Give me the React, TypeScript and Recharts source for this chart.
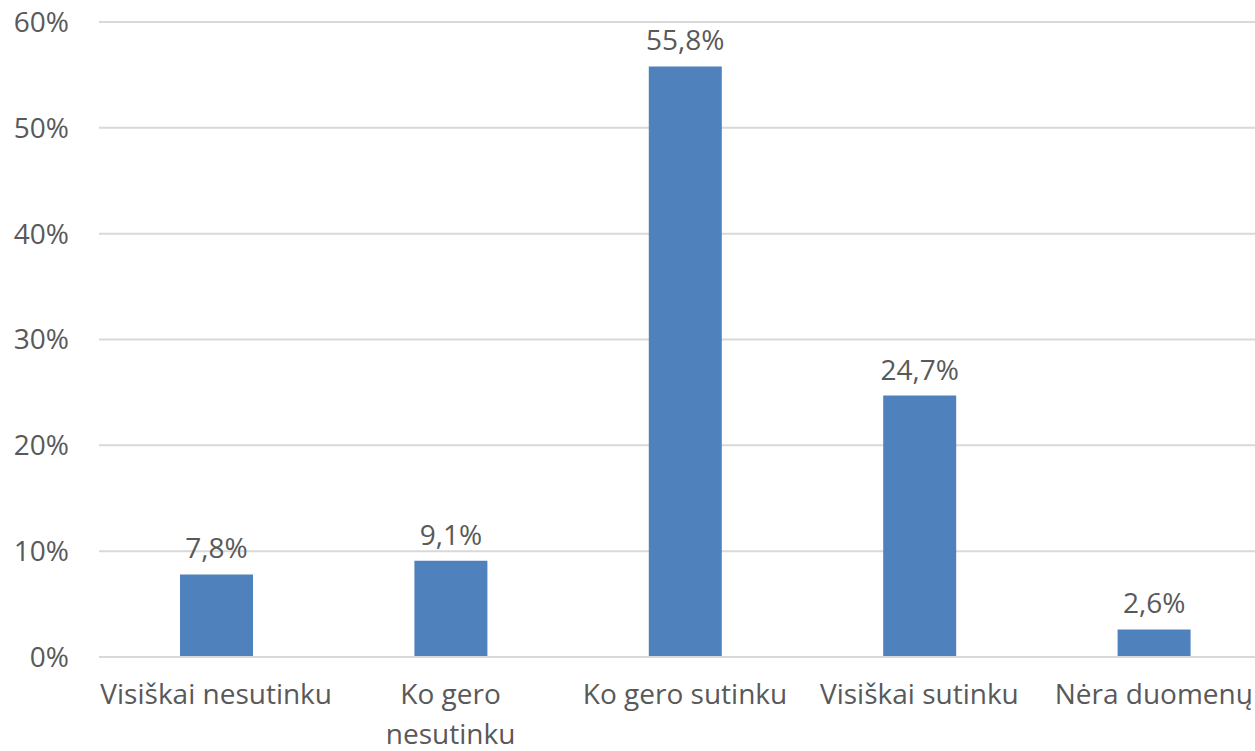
import { BarChart, Bar, XAxis, YAxis, CartesianGrid, LabelList } from 'recharts';

const categories = ['Visiškai nesutinku', 'Ko gero\nnesutinku', 'Ko gero sutinku', 'Visiškai sutinku', 'Nėra duomenų'];
const shares = [7.8, 9.1, 55.8, 24.7, 2.6];
const yTicks = [0, 10, 20, 30, 40, 50, 60];

const data = categories.map((name, i) => ({ name, value: shares[i] }));

const FONT = '"Open Sans", sans-serif';
const TEXT = '#595959';

function CategoryTick({ x, y, payload }: any) {
  const lines = String(payload.value).split('\n');
  return (
    <text x={x} y={y} textAnchor="middle" fill={TEXT} fontSize={28} fontFamily={FONT}>
      {lines.map((line, i) => (
        <tspan key={i} x={x} dy={i === 0 ? 39 : 40}>{line}</tspan>
      ))}
    </text>
  );
}

export default function App() {
  return (
    <div style={{ position: 'absolute', left: 0, top: 0, background: '#fff', width: 1255, height: 751, overflow: 'hidden' }}>
      <BarChart
        width={1271}
        height={751}
        data={data}
        margin={{ top: 22, right: 0, bottom: 0, left: 0 }}
        barCategoryGap={0}
      >
        <CartesianGrid vertical={false} stroke="#d9d9d9" strokeWidth={2} />
        <XAxis
          dataKey="name"
          height={94}
          axisLine={{ stroke: '#d9d9d9', strokeWidth: 2 }}
          tickLine={false}
          interval={0}
          tick={<CategoryTick />}
        />
        <YAxis
          width={99}
          domain={[0, 60]}
          ticks={yTicks}
          axisLine={false}
          tickLine={false}
          tickSize={0}
          tickMargin={30}
          tickFormatter={(v: number) => `${v}%`}
          tick={{ fill: TEXT, fontSize: 28, fontFamily: FONT }}
        />
        <Bar dataKey="value" fill="#4f81bd" barSize={73} isAnimationActive={false}>
          <LabelList
            dataKey="value"
            position="top"
            offset={16}
            fill={TEXT}
            fontSize={28}
            fontFamily={FONT}
            formatter={(v: number) => `${v.toFixed(1).replace('.', ',')}%`}
          />
        </Bar>
      </BarChart>
    </div>
  );
}
